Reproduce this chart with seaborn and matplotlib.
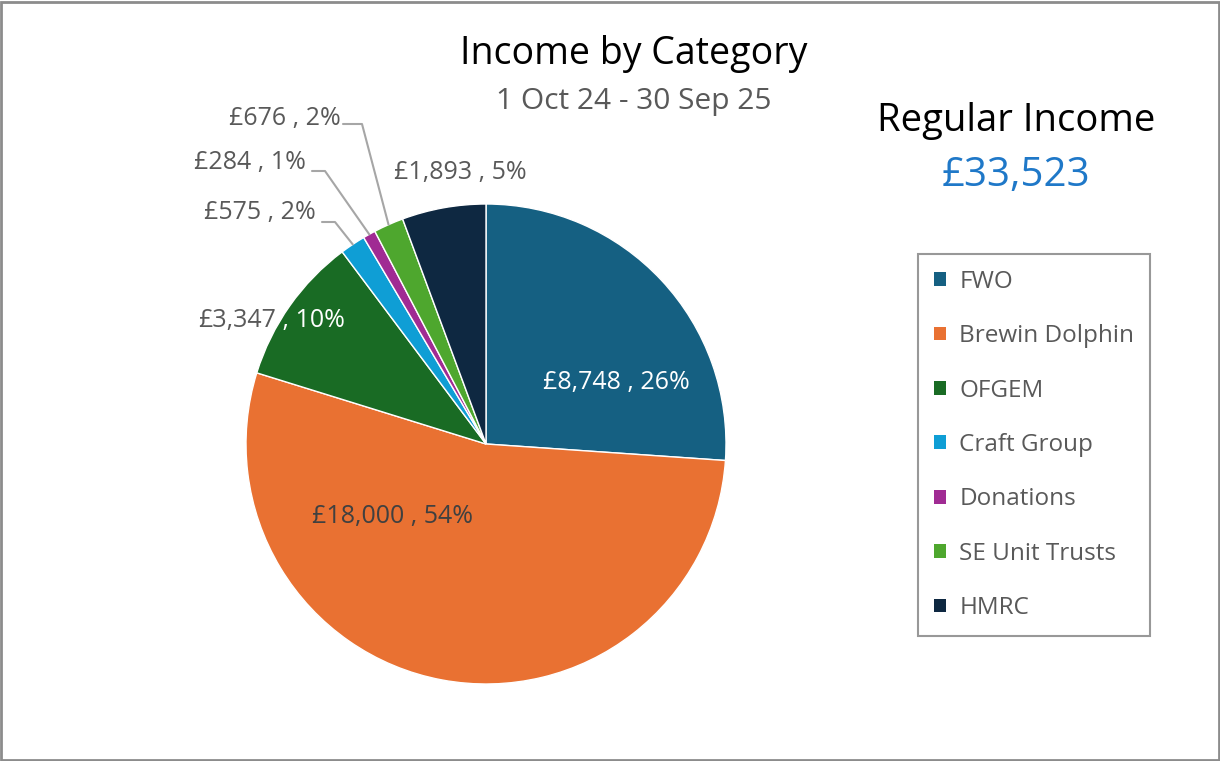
import matplotlib
matplotlib.use("Agg")
import matplotlib.pyplot as plt
from matplotlib.patches import Rectangle
import numpy as np
import seaborn as sns

# データ
categories = ["FWO", "Brewin Dolphin", "OFGEM", "Craft Group", "Donations", "SE Unit Trusts", "HMRC"]
amounts = [8748, 18000, 3347, 575, 284, 676, 1893]
percent_labels = ["26%", "54%", "10%", "2%", "1%", "2%", "5%"]
colors = ["#156082", "#E97132", "#196B24", "#0F9ED5", "#A02B93", "#4EA72E", "#0E2841"]
total_text = "£33,523"

sns.set_theme(style="white")
plt.rcParams['font.family'] = ['Open Sans', 'DejaVu Sans']

W, H = 1220, 761
fig = plt.figure(figsize=(W / 100, H / 100), dpi=100)
ax = fig.add_axes([0, 0, 1, 1])

# 1単位 = 240px (パイの半径)
R_PX = 240
CX, CY = 486, 444

palette = sns.color_palette(colors)
wedges, _ = ax.pie(amounts, colors=palette, startangle=90, counterclock=False,
                   radius=1, wedgeprops=dict(edgecolor="white", linewidth=1.0))

ax.set_xlim(-CX / R_PX, (W - CX) / R_PX)
ax.set_ylim(-(H - CY) / R_PX, CY / R_PX)
ax.set_aspect('equal')
ax.axis('off')


def px(x, y):
    """ピクセル座標 -> データ座標"""
    return (x - CX) / R_PX, (CY - y) / R_PX


label_gray = "#595959"
label_size = 18

# 内側ラベル
inside = {
    0: ((616, 382), "white"),
    1: ((392, 517), "#404040"),
    6: ((460, 172), label_gray),
}
for i, ((x, y), col) in inside.items():
    tx, ty = px(x, y)
    ax.text(tx, ty, f"£{amounts[i]:,} , {percent_labels[i]}", ha="center", va="center",
            color=col, fontsize=label_size)

# OFGEM (半分外側)
tx, ty = px(276, 320)
ax.text(tx, ty, f"£{amounts[2]:,}", ha="right", va="center", color=label_gray, fontsize=label_size)
ax.text(tx, ty, f" , {percent_labels[2]}", ha="left", va="center", color="white", fontsize=label_size)

# 引き出し線付きラベル (テキスト右端, 肘, 線の端)
leaders = {
    3: ((316, 213), (335, 222), (322, 222)),
    4: ((306, 162), (325, 171), (312, 171)),
    5: ((341, 118), (362, 124), (343, 124)),
}
for i, (txt, elbow, end) in leaders.items():
    w = wedges[i]
    mid = np.deg2rad((w.theta1 + w.theta2) / 2)
    wx, wy = np.cos(mid), np.sin(mid)
    ex, ey = px(*elbow)
    nx, ny = px(*end)
    ax.plot([wx, ex, nx], [wy, ey, ny], color="#a6a6a6", linewidth=1.5, clip_on=False)
    tx, ty = px(*txt)
    ax.text(tx, ty, f"£{amounts[i]:,} , {percent_labels[i]}", ha="right", va="center",
            color=label_gray, fontsize=label_size)

# タイトル
fig.text(634 / W, 1 - 54 / H, "Income by Category", ha="center", va="center",
         fontsize=27, color="black")
fig.text(634 / W, 1 - 102 / H, "1 Oct 24 - 30 Sep 25", ha="center", va="center",
         fontsize=21.5, color=label_gray)
fig.text(1016 / W, 1 - 121 / H, "Regular Income", ha="center", va="center",
         fontsize=27.5, color="black")
fig.text(1016 / W, 1 - 176 / H, total_text, ha="center", va="center",
         fontsize=29, color="#1F78C8")

# 凡例
leg = ax.legend(wedges, categories, loc="upper left",
                bbox_to_anchor=(918 / W, 1 - 254 / H), bbox_transform=fig.transFigure,
                borderaxespad=0, frameon=True, fontsize=17.5, labelcolor=label_gray,
                handlelength=0.5, handleheight=0.5, handletextpad=0.55, labelspacing=1.25,
                borderpad=0.65, fancybox=False)
leg.get_frame().set_edgecolor("#7f7f7f")
leg.get_frame().set_linewidth(1.5)
for h in leg.legend_handles:
    h.set_edgecolor("none")

# 外枠
fig.patches.append(Rectangle((0.001, 0.001), 0.998, 0.997, transform=fig.transFigure,
                             fill=False, edgecolor="#8c8c8c", linewidth=2))

fig.savefig("out.png", dpi=100)
